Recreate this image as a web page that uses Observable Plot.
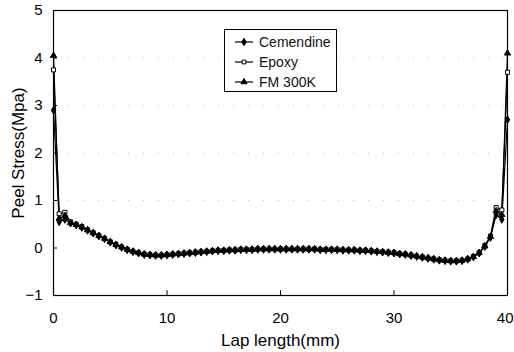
<!DOCTYPE html>
<html>
<head>
<meta charset="utf-8">
<script src="https://cdn.jsdelivr.net/npm/d3@7"></script>
<script src="https://cdn.jsdelivr.net/npm/@observablehq/plot@0.6"></script>
<style>
  body { margin: 0; background: #fff; }
  #wrap { position: relative; width: 514px; height: 352px; font-family: "Liberation Sans", Arial, sans-serif; }
  #legend { position: absolute; left: 224px; top: 29px; width: 113px; height: 63px; border: 1px solid #000; background: #fff; box-sizing: border-box; }
  .row { position: absolute; left: 0; height: 20px; display: flex; align-items: center; font-size: 14px; color: #111; }
  .row svg { margin-left: 9px; margin-right: 5px; }
</style>
</head>
<body>
<div id="wrap"><div id="chart"></div><div id="legend"></div></div>
<script>
const lapLength = [0,0.5,1,1.5,2,2.5,3,3.5,4,4.5,5,5.5,6,6.5,7,7.5,8,8.5,9,9.5,10,10.5,11,11.5,12,12.5,13,13.5,14,14.5,15,15.5,16,16.5,17,17.5,18,18.5,19,19.5,20,20.5,21,21.5,22,22.5,23,23.5,24,24.5,25,25.5,26,26.5,27,27.5,28,28.5,29,29.5,30,30.5,31,31.5,32,32.5,33,33.5,34,34.5,35,35.5,36,36.5,37,37.5,38,38.5,39,39.5,40];
const cemendine = [2.9,0.55,0.6,0.52,0.48,0.43,0.37,0.31,0.25,0.19,0.12,0.06,0.01,-0.04,-0.08,-0.11,-0.14,-0.15,-0.16,-0.16,-0.15,-0.14,-0.13,-0.12,-0.11,-0.1,-0.09,-0.08,-0.07,-0.06,-0.06,-0.05,-0.05,-0.04,-0.04,-0.04,-0.03,-0.03,-0.03,-0.03,-0.03,-0.03,-0.03,-0.03,-0.03,-0.03,-0.03,-0.04,-0.04,-0.04,-0.04,-0.05,-0.05,-0.05,-0.06,-0.06,-0.07,-0.08,-0.09,-0.1,-0.11,-0.13,-0.14,-0.16,-0.18,-0.2,-0.22,-0.24,-0.26,-0.27,-0.28,-0.28,-0.27,-0.24,-0.19,-0.11,0.03,0.22,0.7,0.6,2.7];
const epoxy = [3.75,0.72,0.75,0.55,0.5,0.45,0.38,0.32,0.26,0.2,0.13,0.07,0.02,-0.03,-0.07,-0.1,-0.13,-0.14,-0.15,-0.15,-0.14,-0.13,-0.12,-0.11,-0.1,-0.09,-0.08,-0.07,-0.06,-0.05,-0.05,-0.04,-0.04,-0.03,-0.03,-0.03,-0.02,-0.02,-0.02,-0.02,-0.02,-0.02,-0.02,-0.02,-0.02,-0.02,-0.02,-0.03,-0.03,-0.03,-0.03,-0.04,-0.04,-0.04,-0.05,-0.05,-0.06,-0.07,-0.08,-0.09,-0.1,-0.12,-0.13,-0.15,-0.17,-0.19,-0.21,-0.23,-0.25,-0.26,-0.27,-0.27,-0.26,-0.23,-0.18,-0.1,0.05,0.25,0.85,0.8,3.7];
const fm300k = [4.05,0.62,0.68,0.53,0.49,0.44,0.38,0.32,0.26,0.2,0.13,0.07,0.02,-0.03,-0.07,-0.1,-0.13,-0.14,-0.15,-0.15,-0.14,-0.13,-0.12,-0.11,-0.1,-0.09,-0.08,-0.07,-0.06,-0.05,-0.05,-0.04,-0.04,-0.03,-0.03,-0.03,-0.02,-0.02,-0.02,-0.02,-0.02,-0.02,-0.02,-0.02,-0.02,-0.02,-0.02,-0.03,-0.03,-0.03,-0.03,-0.04,-0.04,-0.04,-0.05,-0.05,-0.06,-0.07,-0.08,-0.09,-0.1,-0.12,-0.13,-0.15,-0.17,-0.19,-0.21,-0.23,-0.25,-0.26,-0.27,-0.27,-0.26,-0.23,-0.18,-0.1,0.04,0.24,0.78,0.7,4.1];
const seriesNames = ["Cemendine","Epoxy","FM 300K"];
const seriesSymbols = ["diamond","square","triangle"];
const seriesFills = ["#000","#fff","#000"];
const xTicks = [0,10,20,30,40];
const yTicks = [-1,0,1,2,3,4,5];
const gridY = [1,2,3,4];

const allValues = [cemendine, epoxy, fm300k];
const data = [];
allValues.forEach((vals, si) => vals.forEach((v, i) => data.push({x: lapLength[i], y: v, s: seriesNames[si]})));

const marks = [
  Plot.ruleY(gridY, {stroke: "#999", strokeDasharray: "1,14", strokeOpacity: 0.6}),
  Plot.ruleX(xTicks.slice(1, -1), {y1: -1, y2: -0.9, stroke: "#000", strokeWidth: 1}),
  Plot.ruleY(yTicks.slice(1, -1), {x1: 0, x2: 0.35, stroke: "#000", strokeWidth: 1}),
  Plot.frame({stroke: "#000", strokeWidth: 1.2}),
];
seriesNames.forEach((name, si) => {
  const d = data.filter(r => r.s === name);
  marks.push(Plot.line(d, {x: "x", y: "y", stroke: "#000", strokeWidth: 1.2}));
});
seriesNames.forEach((name, si) => {
  const d = data.filter(r => r.s === name);
  marks.push(Plot.dot(d, {x: "x", y: "y", symbol: () => seriesSymbols[si], r: 2.3, fill: seriesFills[si], stroke: "#000", strokeWidth: 1}));
});

const chart = Plot.plot({
  width: 514,
  height: 352,
  marginLeft: 53,
  marginRight: 7,
  marginTop: 10,
  marginBottom: 57,
  style: {fontFamily: "'Liberation Sans', Arial, sans-serif", background: "#fff", color: "#000"},
  x: {domain: [0, 40], ticks: xTicks, tickSize: 0, tickPadding: 17, label: "Lap length(mm)", labelArrow: "none", labelAnchor: "center", labelOffset: 50},
  y: {domain: [-1, 5], ticks: yTicks, tickSize: 0, tickPadding: 11, label: "Peel Stress(Mpa)", labelArrow: "none", labelAnchor: "center", labelOffset: 42, tickFormat: d => d < 0 ? "\u2212" + Math.abs(d) : String(d)},
  symbol: {type: "identity"},
  marks
});
const svg = d3.select(chart);
svg.selectAll("g[aria-label='x-axis tick label'], g[aria-label='y-axis tick label']").style("font-size", "15px");
svg.selectAll("g[aria-label='x-axis label'], g[aria-label='y-axis label']").style("font-size", "17px");
svg.selectAll("g[aria-label='x-axis label'] text, g[aria-label='y-axis label'] text").each(function() {
  const t = d3.select(this);
  t.text(t.text().replace(/\s*[\u2190-\u2193]\s*/g, ""));
});
const xLabels = svg.selectAll("g[aria-label='x-axis tick label'] text").nodes();
if (xLabels.length) {
  const last = d3.select(xLabels[xLabels.length - 1]);
  last.attr("text-anchor", "end").attr("dx", "6");
}
document.getElementById("chart").appendChild(chart);

const legend = document.getElementById("legend");
seriesNames.forEach((name, si) => {
  const row = document.createElement("div");
  row.className = "row";
  row.style.top = (2 + si * 20) + "px";
  const sym = d3.symbol(si === 0 ? d3.symbolDiamond : si === 1 ? d3.symbolSquare : d3.symbolTriangle, si === 1 ? 14 : 16)();
  row.innerHTML = `<svg width="20" height="10"><line x1="1" x2="19" y1="5" y2="5" stroke="#000" stroke-width="1.2"/><path d="${sym}" transform="translate(10,5)" fill="${seriesFills[si]}" stroke="#000" stroke-width="1"/></svg><span>${name}</span>`;
  legend.appendChild(row);
});
</script>
</body>
</html>
